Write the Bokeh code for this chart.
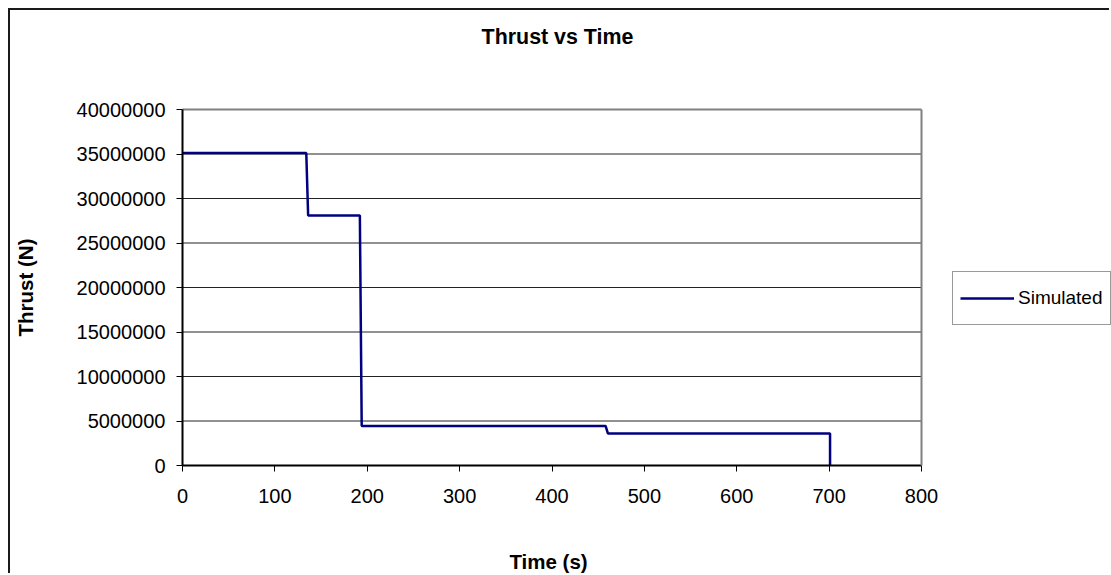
import math
from bokeh.plotting import figure
from bokeh.models import (Range1d, FixedTicker, PrintfTickFormatter, Legend, LegendItem,
                          LinearAxis, Label)
from bokeh.embed import file_html
from bokeh.resources import INLINE

# ---- data ----
time_s = [0, 134, 136, 192, 194, 458, 460.5, 701, 701]
thrust_n = [35100000, 35100000, 28100000, 28100000, 4450000, 4450000, 3600000, 3600000, 0]
x_ticks = [0, 100, 200, 300, 400, 500, 600, 700, 800]
y_ticks = [0, 5000000, 10000000, 15000000, 20000000, 25000000, 30000000, 35000000, 40000000]
series_name = "Simulated"
title_text = "Thrust vs Time"
x_label = "Time (s)"
y_label = "Thrust (N)"

# ---- layout (canvas pixels; canvas starts at page (10, 10)) ----
W, H = 1101, 565
PL, PR, PT, PB = 172, 911, 99, 455          # plot area box
X0, X1 = x_ticks[0], x_ticks[-1]
Y0, Y1 = y_ticks[0], y_ticks[-1]
# the frame covers the whole canvas; ranges are scaled so that the plot area box
# lands where it should, and the axes sit at fixed locations inside the frame
kx = (X1 - X0) / (PR - PL)
ky = (Y1 - Y0) / (PB - PT)
x_range = Range1d(X0 - PL * kx, X1 + (W - PR) * kx)
y_range = Range1d(Y0 - (H - PB) * ky, Y1 + PT * ky)

p = figure(width=W, height=H, output_backend="svg", toolbar_location=None,
           x_range=x_range, y_range=y_range,
           min_border_left=0, min_border_right=0, min_border_top=0, min_border_bottom=0,
           background_fill_color="white", border_fill_color="white")
p.margin = (10, 0, 0, 10)
p.styles = {"box-shadow": "-2px -2px 0px 0px #1a1a1a"}
p.title.visible = False
p.outline_line_color = None
p.xgrid.visible = False
p.ygrid.visible = False

for ax in (p.xaxis[0], p.yaxis[0]):
    ax.axis_line_color = "black"
    ax.axis_line_width = 2
    ax.major_tick_line_color = "black"
    ax.major_tick_line_width = 1
    ax.major_tick_out = 6
    ax.major_tick_in = 0
    ax.minor_tick_line_color = None
    ax.major_label_text_font = "Liberation Sans"
    ax.major_label_text_font_size = "20px"
    ax.major_label_text_color = "black"

p.xaxis.ticker = FixedTicker(ticks=x_ticks)
p.yaxis.ticker = FixedTicker(ticks=y_ticks)
p.xaxis.bounds = (X0, X1)
p.yaxis.bounds = (Y0, Y1)
p.xaxis.fixed_location = Y0
p.yaxis.fixed_location = X0
p.yaxis.formatter = PrintfTickFormatter(format="%d")
p.xaxis.major_label_standoff = 17
p.yaxis.major_label_standoff = 11

# gray top/right border of the plot area
def border_axis(**kw):
    return LinearAxis(ticker=FixedTicker(ticks=[]), axis_line_color="#808080",
                      axis_line_width=2, major_tick_line_color=None,
                      minor_tick_line_color=None, major_label_text_color=None, **kw)

p.add_layout(border_axis(fixed_location=X1, bounds=(Y0, Y1)), "right")
p.add_layout(border_axis(fixed_location=Y1, bounds=(X0, X1)), "above")

# horizontal gridlines at the inner y ticks, across the plot area
inner = y_ticks[1:-1]
p.segment(x0=[X0] * len(inner), x1=[X1] * len(inner), y0=inner, y1=inner,
          line_color="#222222", line_width=1)

r = p.line(time_s, thrust_n, line_color="#000080", line_width=2.5)

legend = Legend(items=[LegendItem(label=series_name, renderers=[r])],
                location=(942, 250), orientation="vertical",
                label_text_font="Liberation Sans", label_text_font_size="19px",
                label_text_color="black", glyph_width=54, glyph_height=38,
                label_height=38, label_standoff=4, padding=7, spacing=0, margin=0,
                border_line_color="#333333", border_line_width=1,
                background_fill_color="white", background_fill_alpha=1)
p.add_layout(legend, "center")

def text_label(text, x, y, size="20.5px", angle=0.0):
    return Label(x=x, y=y, x_units="screen", y_units="screen", text=text, angle=angle,
                 text_align="center", text_baseline="middle",
                 text_font="Liberation Sans", text_font_size=size,
                 text_font_style="bold", text_color="black")

p.add_layout(text_label(title_text, 547, H - 26, size="21.4px"))
p.add_layout(text_label(x_label, 538, H - 551))
p.add_layout(text_label(y_label, 15, H - 277, angle=math.pi / 2))

open("out.html", "w").write(file_html(p, INLINE))
